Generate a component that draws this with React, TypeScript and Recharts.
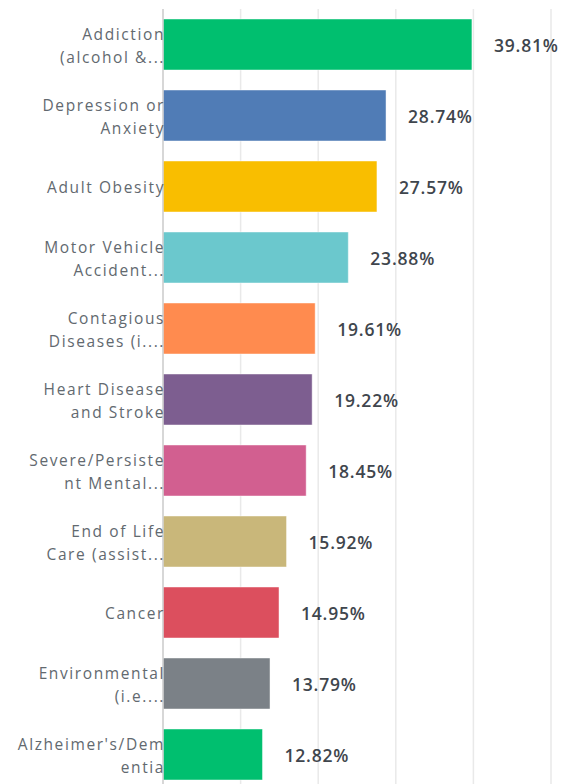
import React from 'react';
import { BarChart, Bar, XAxis, YAxis, CartesianGrid, Cell, LabelList } from 'recharts';

// label lines as they appear (already wrapped/truncated)
const categories: string[][] = [
  ['Addiction', '(alcohol &...'],
  ['Depression or', 'Anxiety'],
  ['Adult Obesity'],
  ['Motor Vehicle', 'Accident...'],
  ['Contagious', 'Diseases (i....'],
  ['Heart Disease', 'and Stroke'],
  ['Severe/Persiste', 'nt Mental...'],
  ['End of Life', 'Care (assist...'],
  ['Cancer'],
  ['Environmental', '(i.e....'],
  ["Alzheimer's/Dem", 'entia'],
];

const values = [39.81, 28.74, 27.57, 23.88, 19.61, 19.22, 18.45, 15.92, 14.95, 13.79, 12.82];

const colors = [
  '#00bf6f', '#507cb6', '#f9be00', '#6bc8cd', '#ff8b4f', '#7d5e90',
  '#d25f90', '#c9b77a', '#dc4f5e', '#7b8187', '#00bf6f',
];

const xTicks = [0, 10, 20, 30, 40, 50];

const FONT = '"Open Sans", "DejaVu Sans", sans-serif';

const data = categories.map((lines, i) => ({ name: String(i), value: values[i] }));

const CategoryTick = (props: any) => {
  const { x, y, payload } = props;
  const lines = categories[Number(payload.value)];
  const start = lines.length === 1 ? 6 : -4.5;
  return (
    <text
      x={x}
      y={y}
      textAnchor="end"
      fill="#62696f"
      fontFamily={FONT}
      fontSize={15.5}
      letterSpacing={1.6}
    >
      {lines.map((line, i) => (
        <tspan key={i} x={x + 2} y={y + start + i * 23}>
          {line}
        </tspan>
      ))}
    </text>
  );
};

const ValueLabel = (props: any) => {
  const { x, y, width, height, value } = props;
  return (
    <text
      x={x + width + 22}
      y={y + height / 2 + 7.5}
      fill="#3f464d"
      fontFamily={FONT}
      fontWeight={600}
      fontSize={17.5}
      letterSpacing={0.8}
    >
      {value.toFixed(2)}%
    </text>
  );
};

const App: React.FC = () => {
  return (
    <div
      style={{
        position: 'absolute',
        left: 0,
        top: 0,
        width: 571,
        height: 784,
        overflow: 'hidden',
        background: '#ffffff',
      }}
    >
      <BarChart
        width={571}
        height={800}
        data={data}
        layout="vertical"
        margin={{ top: 9, right: 20, left: 0, bottom: 10 }}
        barSize={51}
      >
        <CartesianGrid horizontal={false} stroke="#e9e9e9" strokeWidth={1.5} />
        <XAxis type="number" domain={[0, 50]} ticks={xTicks} hide />
        <YAxis
          type="category"
          dataKey="name"
          width={163}
          tickLine={false}
          tickSize={0}
          tickMargin={0}
          axisLine={{ stroke: '#cfcfcf', strokeWidth: 1.5 }}
          tick={<CategoryTick />}
          interval={0}
        />
        <Bar dataKey="value" isAnimationActive={false}>
          {data.map((d, i) => (
            <Cell key={d.name} fill={colors[i]} stroke="rgba(255,255,255,0.45)" strokeWidth={1} />
          ))}
          <LabelList dataKey="value" content={<ValueLabel />} />
        </Bar>
      </BarChart>
    </div>
  );
};

export default App;
